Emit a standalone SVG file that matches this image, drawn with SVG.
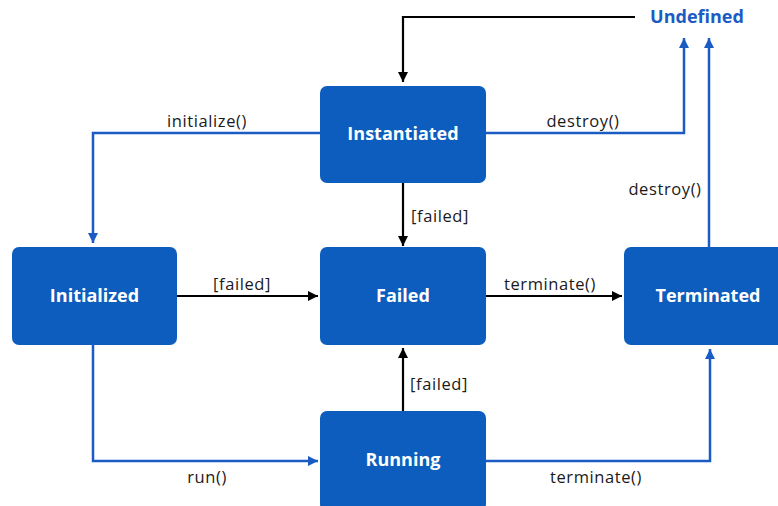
<svg xmlns="http://www.w3.org/2000/svg" width="778" height="506" viewBox="0 0 778 506">
<defs>
<style>
.box{fill:#0c5dbd}
.nt{font-family:"Open Sans","Liberation Sans",sans-serif;font-weight:bold;font-size:18px;fill:#ffffff;text-anchor:middle}
.lb{font-family:"Open Sans","Liberation Sans",sans-serif;font-size:16.5px;letter-spacing:0.6px;fill:#1a1a1a;text-anchor:middle}
.bl{fill:none;stroke:#1a5cc4;stroke-width:2.5}
.bk{fill:none;stroke:#000000;stroke-width:2.2}
</style>
<marker id="ab" viewBox="0 0 10 10" refX="10" refY="5" markerWidth="4" markerHeight="4" orient="auto" markerUnits="strokeWidth"><path d="M0,0 L10,5 L0,10 z" fill="#1a5cc4"/></marker>
<marker id="ak" viewBox="0 0 10 10" refX="10" refY="5" markerWidth="4.6" markerHeight="4.6" orient="auto" markerUnits="strokeWidth"><path d="M0,0 L10,5 L0,10 z" fill="#000000"/></marker>
</defs>
<rect width="778" height="506" fill="#ffffff"/>
<g id="connectors">
<path class="bk" d="M635,17 H403 V82" marker-end="url(#ak)"/>
<path class="bl" d="M320,133 H93 V243" marker-end="url(#ab)"/>
<path class="bl" d="M486,133 H684 V38" marker-end="url(#ab)"/>
<path class="bl" d="M709,247 V38" marker-end="url(#ab)"/>
<path class="bk" d="M403,183 V246" marker-end="url(#ak)"/>
<path class="bk" d="M177,296 H318" marker-end="url(#ak)"/>
<path class="bk" d="M486,296 H622" marker-end="url(#ak)"/>
<path class="bk" d="M403,411 V348" marker-end="url(#ak)"/>
<path class="bl" d="M93,345 V461 H318" marker-end="url(#ab)"/>
<path class="bl" d="M486,461 H710 V349" marker-end="url(#ab)"/>
<text class="lb" x="207" y="127">initialize()</text>
<text class="lb" x="583" y="127">destroy()</text>
<text class="lb" x="665" y="195">destroy()</text>
<text class="lb" x="440" y="222">[failed]</text>
<text class="lb" x="242" y="290">[failed]</text>
<text class="lb" x="550" y="290">terminate()</text>
<text class="lb" x="439" y="390">[failed]</text>
<text class="lb" x="207" y="483">run()</text>
<text class="lb" x="596" y="483">terminate()</text>
</g>
<g id="undefined">
<text x="697" y="23" style="font-family:'Open Sans','Liberation Sans',sans-serif;font-weight:bold;font-size:18px;fill:#1a5cc4;text-anchor:middle">Undefined</text>
</g>
<g id="instantiated">
<rect class="box" x="320" y="86" width="166" height="97" rx="7"/>
<text class="nt" x="403" y="140">Instantiated</text>
</g>
<g id="initialized">
<rect class="box" x="12" y="247" width="165" height="98" rx="7"/>
<text class="nt" x="94.5" y="302">Initialized</text>
</g>
<g id="failed">
<rect class="box" x="320" y="247" width="166" height="98" rx="7"/>
<text class="nt" x="403" y="302">Failed</text>
</g>
<g id="terminated">
<rect class="box" x="624" y="247" width="168" height="98" rx="7"/>
<text class="nt" x="708" y="302">Terminated</text>
</g>
<g id="running">
<rect class="box" x="320" y="411" width="166" height="100" rx="7"/>
<text class="nt" x="403" y="466">Running</text>
</g>
</svg>
